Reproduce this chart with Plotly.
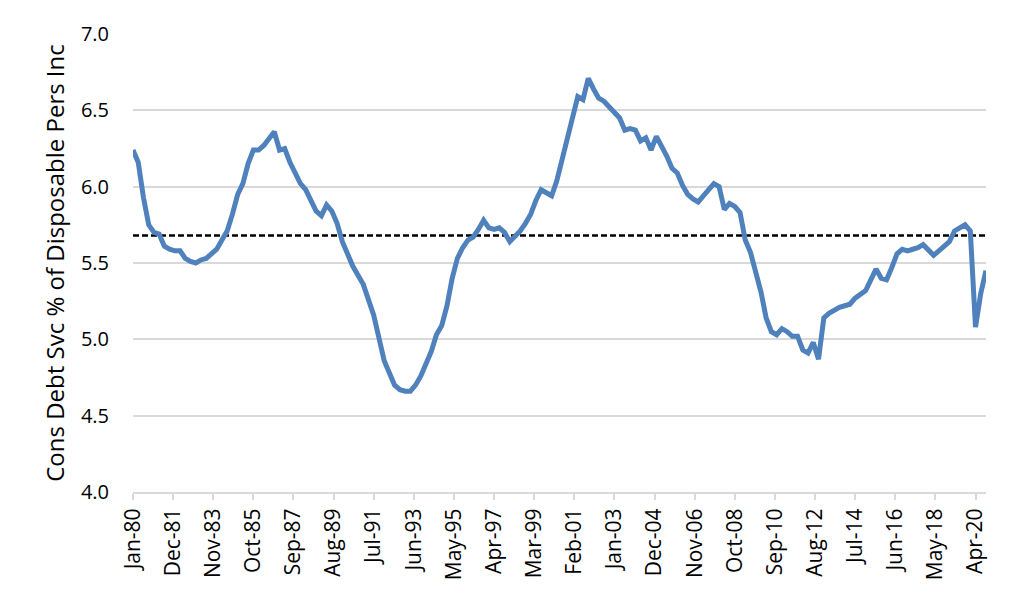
import plotly.graph_objects as go
import pandas as pd

# Quarterly consumer debt service as % of disposable personal income, 1980Q1 - 2020Q4
start_date = "1980-01-01"
debt_service = [
    6.24, 6.16, 5.93, 5.75, 5.70, 5.69, 5.61, 5.59, 5.58, 5.58,
    5.53, 5.51, 5.50, 5.52, 5.53, 5.56, 5.59, 5.65, 5.71, 5.82,
    5.95, 6.02, 6.15, 6.24, 6.24, 6.27, 6.32, 6.36, 6.24, 6.25,
    6.16, 6.09, 6.02, 5.98, 5.91, 5.84, 5.81, 5.88, 5.84, 5.76,
    5.64, 5.55, 5.48, 5.42, 5.36, 5.26, 5.16, 5.01, 4.86, 4.78,
    4.70, 4.67, 4.66, 4.66, 4.70, 4.76, 4.84, 4.92, 5.03, 5.09,
    5.22, 5.40, 5.53, 5.60, 5.65, 5.67, 5.72, 5.78, 5.73, 5.72,
    5.73, 5.70, 5.64, 5.67, 5.71, 5.76, 5.82, 5.91, 5.98, 5.96,
    5.94, 6.04, 6.18, 6.33, 6.46, 6.59, 6.57, 6.71, 6.64, 6.58,
    6.56, 6.52, 6.48, 6.45, 6.37, 6.38, 6.37, 6.30, 6.32, 6.24,
    6.33, 6.27, 6.20, 6.12, 6.09, 6.01, 5.95, 5.92, 5.90, 5.94,
    5.98, 6.02, 6.00, 5.85, 5.89, 5.87, 5.83, 5.65, 5.57, 5.44,
    5.31, 5.14, 5.05, 5.03, 5.07, 5.05, 5.02, 5.02, 4.93, 4.91,
    4.98, 4.87, 5.14, 5.17, 5.19, 5.21, 5.22, 5.23, 5.27, 5.30,
    5.32, 5.39, 5.46, 5.40, 5.39, 5.47, 5.56, 5.59, 5.58, 5.59,
    5.60, 5.62, 5.58, 5.55, 5.58, 5.61, 5.64, 5.71, 5.73, 5.75,
    5.71, 5.08, 5.30, 5.45,
]
average_level = 5.68

tick_dates = [
    "1980-01-01", "1981-12-01", "1983-11-01", "1985-10-01", "1987-09-01",
    "1989-08-01", "1991-07-01", "1993-06-01", "1995-05-01", "1997-04-01",
    "1999-03-01", "2001-02-01", "2003-01-01", "2004-12-01", "2006-11-01",
    "2008-10-01", "2010-09-01", "2012-08-01", "2014-07-01", "2016-06-01",
    "2018-05-01", "2020-04-01",
]
tick_labels = [
    "Jan-80", "Dec-81", "Nov-83", "Oct-85", "Sep-87", "Aug-89", "Jul-91",
    "Jun-93", "May-95", "Apr-97", "Mar-99", "Feb-01", "Jan-03", "Dec-04",
    "Nov-06", "Oct-08", "Sep-10", "Aug-12", "Jul-14", "Jun-16", "May-18",
    "Apr-20",
]
y_ticks = [4.0, 4.5, 5.0, 5.5, 6.0, 6.5, 7.0]
y_title = "Cons Debt Svc % of Disposable Pers Inc"

dates = pd.date_range(start=start_date, periods=len(debt_service), freq="QS")

fig = go.Figure()
fig.add_trace(go.Scatter(
    x=[dates[0], dates[-1]], y=[average_level, average_level],
    mode="lines", line=dict(color="black", width=2.5, dash="6px,3px"),
    hoverinfo="skip", showlegend=False,
))
fig.add_trace(go.Scatter(
    x=dates, y=debt_service, mode="lines",
    line=dict(color="#4f81bd", width=5),
    showlegend=False,
))

font_family = "Open Sans, DejaVu Sans, sans-serif"
fig.update_layout(
    width=1024, height=603,
    margin=dict(l=125, r=46, t=21, b=119),
    paper_bgcolor="white", plot_bgcolor="white",
    font=dict(family=font_family, color="#000000"),
)
fig.update_xaxes(
    type="date",
    range=[dates[0], dates[-1]],
    tickvals=tick_dates, ticktext=tick_labels,
    tickangle=-90, tickfont=dict(size=21, family=font_family, color="#000000"),
    ticks="outside", ticklen=6, tickcolor="#d9d9d9", tickwidth=1.5,
    showline=True, linecolor="#d9d9d9", linewidth=2,
    showgrid=False, zeroline=False,
)
fig.update_yaxes(
    range=[4.0, 7.0],
    tickvals=y_ticks, tickformat=".1f",
    tickfont=dict(size=20, family=font_family, color="#000000"),
    ticks="", ticklabelstandoff=23,
    showgrid=True, gridcolor="#d9d9d9", gridwidth=1.5,
    showline=False, zeroline=False,
    title=dict(text=y_title, font=dict(size=24, family=font_family, color="#000000"), standoff=9),
)

fig.write_html("out.html")
